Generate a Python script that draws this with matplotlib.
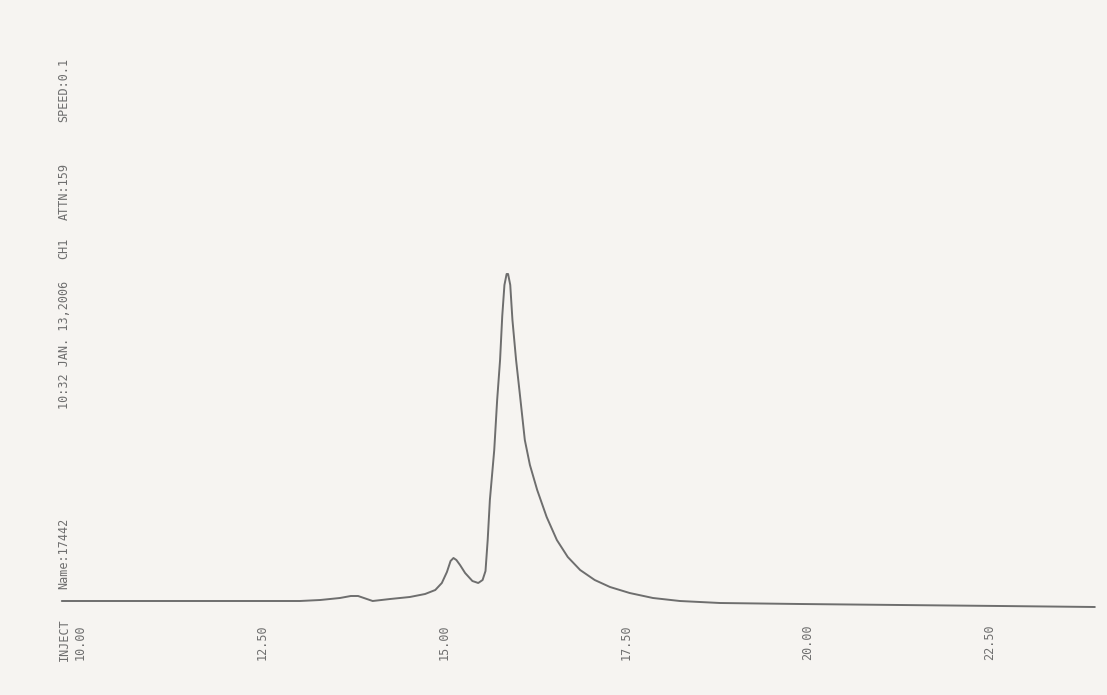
import matplotlib
matplotlib.use("Agg")
import matplotlib.pyplot as plt

# Retention time (min) and detector signal (arbitrary units)
time_min = [9.75, 10.27, 10.96, 11.65, 12.34, 13.02, 13.30, 13.57, 13.72, 13.82, 13.90,
            14.02, 14.26, 14.53, 14.74, 14.88, 14.97, 15.04, 15.09, 15.13, 15.17, 15.22,
            15.29, 15.39, 15.47, 15.53, 15.57, 15.60, 15.63, 15.69, 15.73, 15.77,
            15.80, 15.83, 15.86, 15.88, 15.91, 15.94, 15.99, 16.04, 16.11, 16.18, 16.28,
            16.41, 16.55, 16.70, 16.87, 17.07, 17.28, 17.55, 17.87, 18.24, 18.79,
            19.89, 21.26, 22.64, 23.94]
signal = [0, 0, 0, 0, 0, 0, 1, 3, 5, 5, 3,
          0, 2, 4, 7, 11, 18, 29, 40, 43, 41, 36,
          28, 20, 18, 21, 30, 61, 101, 151, 201, 241,
          285, 316, 327, 327, 316, 281, 241, 208, 161, 136, 111,
          84, 61, 44, 31, 21, 14, 8, 3, 0, -2,
          -3, -4, -5, -6]

tick_times = [10.0, 12.5, 15.0, 17.5, 20.0, 22.5]
tick_labels = ["10.00", "12.50", "15.00", "17.50", "20.00", "22.50"]
header_items = ["INJECT", "Name:17442", "10:32 JAN. 13,2006", "CH1", "ATTN:159", "SPEED:0.1"]

bg = "#f6f4f1"
ink = "#6e6e6e"

fig = plt.figure(figsize=(11.07, 6.95), dpi=100, facecolor=bg)
ax = fig.add_axes([0, 0, 1, 1])
ax.set_facecolor(bg)
ax.plot(time_min, signal, color=ink, lw=1.4, solid_joinstyle="round",
        solid_capstyle="round")
ax.set_xlim(8.901, 24.107)
ax.set_ylim(-94, 601)
ax.axis("off")

mono = "DejaVu Sans Mono"
for t, lab in zip(tick_times, tick_labels):
    ax.text(t, -41, lab, rotation=90, ha="center", va="center",
            fontsize=8.5, family=mono, color=ink)

# header texts along the left edge (figure pixel positions of their centres)
header_y_px = [640, 553, 345, 248, 192, 90]
for lab, ypx in zip(header_items, header_y_px):
    fig.text(64 / 1107, 1 - ypx / 695, lab, rotation=90, ha="center", va="center",
             fontsize=8.5, family=mono, color=ink)

fig.savefig("out.png", dpi=100, facecolor=bg)
